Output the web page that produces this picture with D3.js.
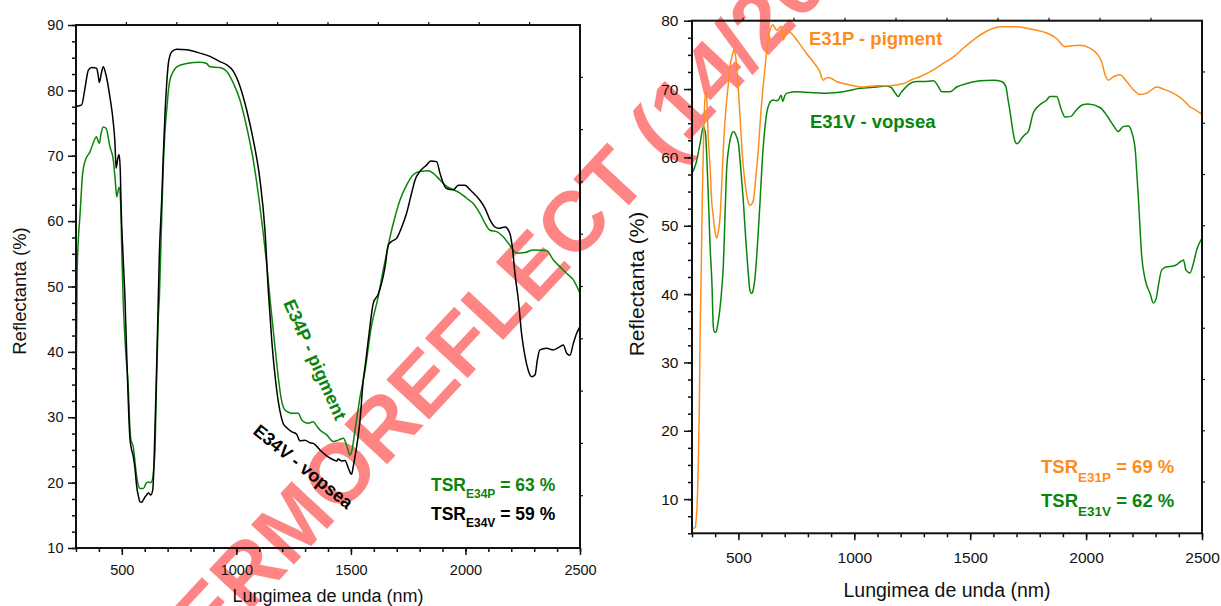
<!DOCTYPE html>
<html>
<head>
<meta charset="utf-8">
<script src="https://cdn.jsdelivr.net/npm/d3@7"></script>
<style>
  html, body { margin: 0; padding: 0; background: #fff; }
  svg { display: block; font-family: "Liberation Sans", Arial, sans-serif; }
</style>
</head>
<body>
<svg id="chart" width="1221" height="606"></svg>
<script>
// ---- data: reflectance spectra, [wavelength nm, reflectance %] ----
const e34vSpectrum = [[300,77.5],[310,77.6],[325,77.8],[340,80.5],[354,83.1],[368,83.5],[390,83.4],[396,82.5],[402,81.2],[410,82.5],[419,83.6],[430,82.5],[448,79],[463,75],[470,72],[475,68.1],[482,69.5],[488,70.2],[493,68],[497,62],[505,55],[514,47.9],[521,40],[528,32.6],[535,27],[540,25.5],[550,24],[558,22],[565,19.4],[572,18],[579,17.1],[587,17],[594,17.35],[601,17.8],[608,18.1],[616,18.4],[626,18.1],[635,18.9],[640,22.4],[646,30],[652,37.7],[659,47.9],[664,55],[674,63.2],[681,70],[688,76],[696,81.1],[703,84.1],[710,85.3],[718,85.9],[740,86.3],[783,86.2],[841,85.7],[885,85.2],[928,84.4],[958,83.9],[987,82.9],[1016,80.6],[1045,77],[1074,72.4],[1103,66.3],[1125,58.5],[1140,49],[1155,41.5],[1176,34.2],[1190,31],[1205,29],[1220,28.4],[1241,27.8],[1263,27.4],[1278,26.4],[1300,26.5],[1321,26.1],[1336,26],[1365,25],[1394,24.1],[1423,23.5],[1438,23.3],[1445,23.6],[1460,23.3],[1474,23.4],[1489,22.2],[1499,21.4],[1503,21.3],[1510,22.4],[1518,24],[1525,25.5],[1540,29.6],[1554,35.7],[1561,37.5],[1580,43],[1598,47.5],[1619,48.8],[1649,53],[1663,56.3],[1678,56.9],[1700,57.4],[1722,59.1],[1743,61.2],[1765,64.3],[1780,66.3],[1801,67.6],[1831,68.6],[1848,69.2],[1874,69.1],[1889,67.3],[1903,65.8],[1918,65],[1947,64.8],[1969,65.5],[1998,65.5],[2020,64.8],[2063,63.2],[2085,62],[2107,60.2],[2129,59.1],[2143,58.9],[2173,59.1],[2194,58.1],[2206,55.6],[2216,52],[2231,47.9],[2245,42.8],[2260,39.3],[2274,37.2],[2289,36.2],[2304,36.5],[2314,38.8],[2325,40.3],[2354,40.55],[2383,40.3],[2413,40.8],[2427,41.05],[2442,39.8],[2456,39.5],[2471,41.3],[2485,42.8],[2500,43.85]];

const e34pSpectrum = [[300,27],[302,40],[305,52],[310,57],[317,60.7],[329,67.3],[339,69.1],[361,70.6],[390,72.9],[396,72.3],[402,71.9],[410,73.5],[419,74.4],[431,74.2],[448,71.4],[463,69.3],[470,66.8],[478,63.7],[483,64.5],[488,65.2],[495,62.7],[500,55],[506,47.9],[517,40],[528,34.7],[535,28.5],[540,26.5],[550,25.5],[558,23],[565,20.9],[572,19.6],[579,19.1],[594,19.1],[606,19.9],[616,20.1],[626,20],[635,20.7],[640,22.5],[645,25],[652,36],[659,45],[664,48.4],[672,58],[681,68.3],[688,73.5],[696,77],[703,79.8],[710,81.6],[725,82.9],[740,83.6],[783,84.1],[841,84.3],[870,84.1],[885,83.6],[928,83.5],[958,82.9],[987,81.1],[1016,78.5],[1045,74.4],[1074,69.3],[1103,62.2],[1132,53.5],[1150,47],[1165,42],[1180,37],[1195,33],[1210,31.2],[1225,30.8],[1241,30.6],[1270,30.6],[1285,29.6],[1300,29.2],[1314,29.1],[1336,29.3],[1350,28.7],[1365,28.05],[1394,27.3],[1423,26.3],[1445,26.5],[1467,26.8],[1481,25.75],[1496,24.2],[1503,24.7],[1518,28],[1540,33.1],[1561,37],[1590,44],[1619,48.4],[1641,52.5],[1656,55.1],[1671,57.6],[1693,60.7],[1714,63.2],[1743,65.5],[1772,67.1],[1801,67.6],[1838,67.7],[1860,67.3],[1889,66.3],[1918,65.3],[1947,64.8],[1976,64.3],[2005,63.5],[2034,62.7],[2063,61.2],[2085,59.7],[2107,58.6],[2136,58.4],[2165,57.6],[2194,56.3],[2223,55.1],[2260,55.2],[2296,55.6],[2354,55.5],[2383,54.1],[2413,53],[2442,52],[2471,51],[2493,49.5],[2500,49]];

const e31pSpectrum = [[300,5.7],[313,5.8],[318,7],[323,9.9],[327,14.7],[332,24.5],[335,34],[340,44],[345,55],[350,63],[355,68],[360,69.6],[364,68.5],[370,63],[378,58.6],[385,53.5],[392,51.3],[400,49],[407,48.2],[414,49.2],[421,51.3],[428,56],[435,61.1],[446,67],[457,70.8],[465,73.5],[472,74.7],[481,75.7],[487,75],[493,73.3],[500,70],[507,66],[518,60],[529,56.2],[540,53.8],[550,53],[558,53.2],[565,53.8],[575,57],[586,61.1],[597,66.5],[608,70.8],[619,74.5],[630,77.7],[640,79],[649,79.4],[657,79],[666,78.6],[675,78.9],[684,79.2],[690,78],[695,77.2],[702,78.2],[710,78.6],[727,78.2],[758,76.9],[794,75.2],[838,73.3],[852,72.5],[860,71.6],[867,71.3],[878,71.6],[889,71.7],[924,71.1],[982,70.6],[1040,70.3],[1097,70.5],[1154,70.5],[1212,70.8],[1250,71.4],[1284,71.8],[1341,72.8],[1385,73.8],[1428,74.7],[1471,76],[1514,77.2],[1557,78.2],[1600,78.9],[1643,79.1],[1701,79.1],[1744,78.9],[1787,78.6],[1830,78.2],[1873,77.4],[1909,76.2],[1931,76.3],[1974,76.4],[2017,76],[2046,75.2],[2067,74],[2082,72.1],[2096,71.3],[2118,71.8],[2146,72.1],[2175,71.1],[2204,69.9],[2233,69.2],[2262,69.4],[2305,70.3],[2333,70],[2376,69.4],[2419,68.4],[2448,67.4],[2470,67],[2491,66.5],[2500,66.3]];

const e31vSpectrum = [[300,57.7],[317,59.1],[335,62.1],[349,64.5],[358,63.5],[365,59],[371,53.8],[378,47],[386,41.6],[392,35.2],[398,34.4],[404,34.5],[414,36.2],[421,38],[429,41],[435,44],[442,51],[450,58.6],[457,61],[464,62.5],[472,63.5],[481,63.8],[490,63.2],[500,62.1],[510,58.5],[521,53.8],[532,48],[543,43],[550,40.5],[557,40.1],[564,40.6],[572,42.5],[583,47.5],[594,53.8],[604,60],[615,64.5],[624,66.8],[634,67.9],[643,68.3],[651,68.4],[662,68.3],[673,68.4],[684,69.1],[692,68.2],[700,69],[710,69.4],[753,69.6],[810,69.5],[882,69.4],[953,69.6],[1025,70.1],[1097,70.3],[1140,70.45],[1160,70.2],[1175,69.5],[1190,68.9],[1200,69.4],[1212,69.9],[1240,70.8],[1269,71.1],[1298,71.1],[1341,71.2],[1355,70.8],[1363,70.35],[1377,69.6],[1413,69.6],[1442,70.3],[1485,70.8],[1542,71.2],[1600,71.3],[1635,71.1],[1654,70.35],[1663,68.5],[1671,66.9],[1686,63.5],[1695,62.2],[1703,62],[1712,62.3],[1722,62.8],[1735,63.3],[1751,63.8],[1772,66.5],[1794,67.5],[1830,68.4],[1844,68.9],[1873,68.9],[1894,66.9],[1909,65.9],[1935,66],[1957,66.9],[1986,67.7],[2008,67.8],[2060,67.3],[2088,66.2],[2117,64.7],[2139,63.8],[2160,64.5],[2182,64.6],[2196,63.8],[2212,61.1],[2220,57],[2226,53.8],[2240,45.5],[2255,42.1],[2276,40.1],[2290,38.7],[2302,39.3],[2311,41.1],[2326,43.5],[2348,44],[2376,44.1],[2391,44.3],[2405,44.7],[2420,45],[2431,43.5],[2448,43.1],[2463,44.5],[2477,46.45],[2500,48.2]];

// ---- axis ticks and labels ----
const xMajorTicks = [500, 1000, 1500, 2000, 2500];
const xMinorTicks = d3.range(300, 2501, 100);
const yMajorLeft = [10, 20, 30, 40, 50, 60, 70, 80, 90];
const yMinorLeft = d3.range(10, 90.1, 2.5);
const yMajorRight = [10, 20, 30, 40, 50, 60, 70, 80];
const yMinorRight = d3.range(5, 80.1, 2.5);
const xTitle = "Lungimea de unda (nm)";
const yTitle = "Reflectanta (%)";
const watermarkText = "TERMOREFLECT (14/2020)";

const GREEN = "#0a850a";
const ORANGE = "#ff8c1a";
const BLACK = "#000";

const svg = d3.select("#chart");

// watermark behind everything
svg.append("text")
  .attr("transform", "translate(174,693) rotate(-47)")
  .attr("font-size", 85)
  .attr("font-weight", "bold")
  .attr("fill", "#ff0000")
  .attr("fill-opacity", 0.48)
  .text(watermarkText);

function panel(cfg) {
  const x = d3.scaleLinear().domain([300, 2500]).range([cfg.left, cfg.right]);
  const y = d3.scaleLinear().domain(cfg.yDomain).range([cfg.bottom, cfg.top]);
  const g = svg.append("g");

  const clipId = "clip" + cfg.id;
  svg.append("defs").append("clipPath").attr("id", clipId)
    .append("rect").attr("x", cfg.left).attr("y", cfg.top)
    .attr("width", cfg.right - cfg.left).attr("height", cfg.bottom - cfg.top);

  const line = d3.line().x(d => x(d[0])).y(d => y(d[1])).curve(d3.curveMonotoneX);
  cfg.series.forEach(s => {
    g.append("path").datum(s.data)
      .attr("clip-path", `url(#${clipId})`)
      .attr("fill", "none").attr("stroke", s.color)
      .attr("stroke-width", 1.5).attr("stroke-linejoin", "round")
      .attr("d", line);
  });

  const fs = cfg.tickFont;
  const fmt = d3.format("d");
  // bottom axis
  const bMinor = g.append("g").attr("transform", `translate(0,${cfg.bottom})`)
    .call(d3.axisBottom(x).tickValues(xMinorTicks).tickSize(4).tickFormat(""));
  const bMajor = g.append("g").attr("transform", `translate(0,${cfg.bottom})`)
    .call(d3.axisBottom(x).tickValues(xMajorTicks).tickSize(7).tickFormat(fmt).tickPadding(cfg.xLabGap - 7));
  // left axis
  const lMinor = g.append("g").attr("transform", `translate(${cfg.left},0)`)
    .call(d3.axisLeft(y).tickValues(cfg.yMinor).tickSize(4).tickFormat(""));
  const lMajor = g.append("g").attr("transform", `translate(${cfg.left},0)`)
    .call(d3.axisLeft(y).tickValues(cfg.yMajor).tickSize(8).tickFormat(fmt).tickPadding(cfg.yLabGap - 8));
  [bMinor, bMajor, lMinor, lMajor].forEach(a => {
    a.select(".domain").remove();
    a.selectAll("line").attr("stroke", "#111").attr("stroke-width", 1.5);
    a.selectAll("text").attr("font-size", fs).attr("fill", "#111")
      .attr("font-family", "'Liberation Sans', Arial, sans-serif");
  });

  // top and right axes: ten plain divisions
  const topTicks = d3.range(1, 10).map(i => cfg.left + i * (cfg.right - cfg.left) / 10);
  const rightTicks = d3.range(1, 10).map(i => cfg.top + i * (cfg.bottom - cfg.top) / 10);
  g.selectAll(null).data(topTicks).join("line")
    .attr("x1", d => d).attr("x2", d => d).attr("y1", cfg.top).attr("y2", cfg.top - 3)
    .attr("stroke", "#111").attr("stroke-width", 1.2);
  g.selectAll(null).data(rightTicks).join("line")
    .attr("y1", d => d).attr("y2", d => d).attr("x1", cfg.right).attr("x2", cfg.right + 3)
    .attr("stroke", "#111").attr("stroke-width", 1.2);

  // frame
  g.append("rect").attr("x", cfg.left).attr("y", cfg.top)
    .attr("width", cfg.right - cfg.left).attr("height", cfg.bottom - cfg.top)
    .attr("fill", "none").attr("stroke", "#111").attr("stroke-width", 2);

  // titles
  g.append("text").attr("x", (cfg.left + cfg.right) / 2).attr("y", cfg.xTitleY)
    .attr("text-anchor", "middle").attr("font-size", cfg.titleFont).attr("fill", "#111")
    .text(xTitle);
  g.append("text")
    .attr("transform", `translate(${cfg.yTitleX},${cfg.yTitleCY}) rotate(-90)`)
    .attr("text-anchor", "middle").attr("font-size", cfg.yTitleFont).attr("fill", "#111")
    .text(yTitle);
  return { x, y, g };
}

function tsrLabel(g, px, py, sub, rest, color, fMain, fSub, shift) {
  const t = g.append("text").attr("x", px).attr("y", py)
    .attr("font-weight", "bold").attr("font-size", fMain).attr("fill", color);
  t.append("tspan").text("TSR");
  t.append("tspan").attr("dy", shift).attr("font-size", fSub).text(sub);
  t.append("tspan").attr("dy", -shift).text(rest);
}

// ---- left panel: E34 ----
const left = panel({
  id: "L", left: 76, right: 580, top: 25, bottom: 548,
  yDomain: [10, 90], yMajor: yMajorLeft, yMinor: yMinorLeft,
  tickFont: 14.5, xLabGap: 17, yLabGap: 12.5,
  titleFont: 18, xTitleY: 602, yTitleFont: 18.5, yTitleX: 26, yTitleCY: 291,
  series: [{ data: e34pSpectrum, color: GREEN }, { data: e34vSpectrum, color: BLACK }]
});

left.g.append("text")
  .attr("transform", "translate(283,303) rotate(66)")
  .attr("font-size", 18).attr("font-weight", "bold").attr("fill", GREEN)
  .text("E34P - pigment");
left.g.append("text")
  .attr("transform", "translate(252,433) rotate(39)")
  .attr("font-size", 18).attr("font-weight", "bold").attr("fill", BLACK)
  .text("E34V - vopsea");
tsrLabel(left.g, 431, 491, "E34P", " = 63 %", GREEN, 17.5, 12, 7);
tsrLabel(left.g, 431, 520, "E34V", " = 59 %", BLACK, 17.5, 12, 7);

// ---- right panel: E31 ----
const right = panel({
  id: "R", left: 692, right: 1202, top: 20.7, bottom: 533.3,
  yDomain: [5, 80], yMajor: yMajorRight, yMinor: yMinorRight,
  tickFont: 15.5, xLabGap: 18.5, yLabGap: 13.5,
  titleFont: 19.5, xTitleY: 597, yTitleFont: 21, yTitleX: 644, yTitleCY: 284,
  series: [{ data: e31vSpectrum, color: GREEN }, { data: e31pSpectrum, color: ORANGE }]
});

right.g.append("text").attr("x", 809).attr("y", 45)
  .attr("font-size", 18.5).attr("font-weight", "bold").attr("fill", ORANGE)
  .text("E31P - pigment");
right.g.append("text").attr("x", 810).attr("y", 128)
  .attr("font-size", 18.5).attr("font-weight", "bold").attr("fill", GREEN)
  .text("E31V - vopsea");
tsrLabel(right.g, 1041, 473, "E31P", " = 69 %", ORANGE, 18.5, 13.5, 8.5);
tsrLabel(right.g, 1041, 507, "E31V", " = 62 %", GREEN, 18.5, 13.5, 8.5);
</script>
</body>
</html>
